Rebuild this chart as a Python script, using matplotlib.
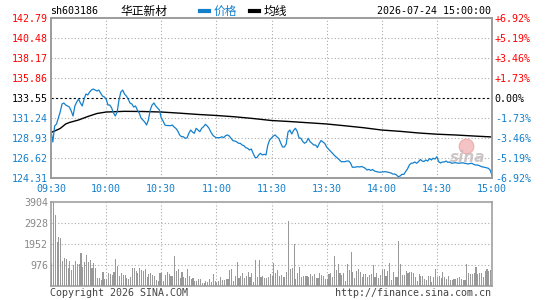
import matplotlib
matplotlib.use('Agg')
import matplotlib.pyplot as plt
from matplotlib.lines import Line2D

# ---------------- data ----------------
prev_close = 133.55
prices = [
    129.74, 128.47, 130.32, 130.55, 131.24, 131.93, 132.86, 132.97, 132.74, 132.63,
    132.51, 132.05, 131.47, 132.63, 133.09, 133.43, 132.97, 132.63, 133.43, 134.01,
    133.90, 134.24, 134.47, 134.59, 134.47, 134.36, 134.47, 134.13, 133.78, 133.67,
    133.43, 132.74, 132.74, 132.40, 131.82, 131.47, 131.93, 133.32, 134.24, 134.47,
    134.01, 133.78, 133.43, 132.97, 132.86, 132.51, 132.63, 132.16, 131.82, 131.24,
    131.01, 130.78, 130.43, 131.01, 132.16, 132.74, 132.97, 132.63, 132.40, 132.16,
    131.24, 130.89, 130.43, 130.37, 130.37, 130.35, 130.43, 130.20, 130.03, 129.74,
    129.28, 129.08, 129.08, 128.90, 128.93, 129.47, 129.85, 129.62, 129.47, 130.05,
    129.85, 129.66, 130.05, 130.23, 130.51, 130.32, 130.05, 129.62, 129.28, 129.08,
    128.97, 128.97, 128.97, 129.08, 128.97, 129.20, 129.28, 129.16, 128.90, 128.62,
    128.58, 128.50, 128.32, 128.32, 128.12, 128.04, 127.81, 127.74, 127.54, 127.66,
    127.16, 126.70, 126.65, 126.97, 127.16, 126.97, 127.05, 126.97, 128.12, 128.70,
    128.93, 129.16, 129.28, 129.05, 128.87, 128.35, 127.89, 127.89, 128.24, 129.62,
    129.85, 129.39, 129.80, 130.05, 129.68, 128.93, 128.90, 128.53, 128.32, 128.47,
    128.90, 128.50, 128.32, 128.12, 128.12, 127.83, 128.30, 128.64, 128.47, 128.30,
    127.89, 127.66, 127.43, 127.20, 126.97, 126.77, 126.59, 126.39, 126.19, 126.19,
    126.19, 126.27, 126.27, 126.04, 125.55, 125.55, 125.58, 125.62, 125.58, 125.64,
    125.55, 125.43, 125.23, 125.31, 125.18, 125.29, 125.12, 125.06, 125.00, 124.97,
    125.00, 125.03, 125.04, 125.00, 124.95, 124.89, 124.77, 124.77, 124.66, 124.46,
    124.54, 124.74, 124.72, 125.06, 125.35, 125.81, 126.01, 126.04, 126.16, 126.01,
    126.19, 126.45, 126.27, 126.22, 126.39, 126.27, 126.56, 126.39, 126.59, 126.50,
    126.77, 126.19, 126.04, 126.16, 126.16, 126.27, 126.12, 126.16, 126.01, 126.04,
    126.08, 126.04, 126.01, 126.04, 126.07, 126.01, 125.98, 125.93, 125.98, 126.01,
    125.89, 125.81, 125.81, 125.75, 125.64, 125.58, 125.55, 125.49, 125.43, 125.23, 124.60,
]
avg_minutes = [0, 2, 5, 8, 10, 15, 20, 25, 30, 40, 50, 60, 70, 80, 90, 100, 110, 120,
               130, 140, 150, 160, 170, 180, 190, 200, 210, 220, 230, 240]
avg_values = [129.57, 129.74, 130.03, 130.55, 130.72, 131.01, 131.41, 131.76, 131.93,
              132.01, 131.99, 131.93, 131.80, 131.65, 131.53, 131.38, 131.18, 130.95,
              130.83, 130.69, 130.55, 130.34, 130.12, 129.85, 129.70, 129.51, 129.37,
              129.28, 129.16, 129.05]
volumes = [
    1040, 3904, 3288, 2048, 2249, 2203, 1149, 1273, 1226, 808,
    1149, 730, 947, 1149, 1009, 1009, 1536, 885, 1102, 1428,
    1102, 1195, 823, 1071, 823, 380, 350, 280, 620, 330,
    310, 575, 545, 500, 650, 1226, 930, 450, 606, 500,
    500, 340, 310, 420, 808, 808, 700, 606, 823, 730,
    700, 760, 390, 545, 606, 480, 450, 265, 200, 575,
    575, 200, 480, 640, 545, 450, 450, 1381, 670, 760,
    360, 640, 390, 360, 775, 450, 330, 360, 235, 235,
    295, 330, 140, 110, 200, 155, 330, 155, 545, 200,
    140, 220, 390, 265, 265, 330, 330, 730, 790, 200,
    450, 1102, 370, 450, 606, 360, 450, 620, 390, 606,
    170, 1195, 420, 1195, 390, 470, 340, 340, 420, 540,
    450, 1071, 606, 730, 450, 500, 420, 390, 640, 3009,
    775, 823, 1950, 310, 590, 870, 400, 440, 450, 440,
    420, 540, 450, 540, 370, 370, 590, 480, 450, 310,
    310, 560, 600, 420, 1381, 730, 990, 600, 500, 600,
    220, 990, 730, 1550, 640, 360, 670, 775, 640, 400,
    540, 540, 390, 520, 560, 960, 390, 590, 360, 480,
    745, 775, 440, 680, 1071, 265, 640, 390, 390, 2079,
    990, 480, 500, 680, 575, 640, 640, 600, 390, 220,
    540, 470, 450, 310, 265, 440, 440, 155, 390, 775,
    390, 450, 360, 640, 400, 330, 450, 265, 280, 310,
    310, 360, 400, 330, 280, 265, 990, 590, 560, 540,
    590, 870, 540, 590, 590, 400, 700, 775, 700, 750, 800,
]
price_ticks = [124.31, 126.62, 128.93, 131.24, 133.55, 135.86, 138.17, 140.48, 142.79]
pct_labels = ['-6.92%', '-5.19%', '-3.46%', '-1.73%', '0.00%',
              '+1.73%', '+3.46%', '+5.19%', '+6.92%']
time_ticks = [0, 30, 60, 90, 120, 150, 180, 210, 240]
time_labels = ['09:30', '10:00', '10:30', '11:00', '11:30',
               '13:30', '14:00', '14:30', '15:00']
vol_ticks = [976, 1952, 2928, 3904]

# ---------------- style ----------------
W, H = 545, 300
MONO = 'DejaVu Sans Mono'
CJK = ['Noto Sans CJK SC', 'DejaVu Sans']
FS = 7.2
RED = '#ff0000'
BLUE = '#1480cc'
GRID = '#aaaaaa'
EDGE = '#999999'
BAR = '#999999'

fig = plt.figure(figsize=(W / 100, H / 100), dpi=100)
ax = fig.add_axes([51 / W, 1 - 178 / H, 441 / W, 160 / H])
axv = fig.add_axes([51 / W, 1 - 285.7 / H, 441 / W, 84 / H])

def tick_color(v):
    if abs(v - prev_close) < 1e-6:
        return 'black'
    return RED if v > prev_close else BLUE

# price pane
ax.set_xlim(0, 240)
ax.set_ylim(price_ticks[0], price_ticks[-1])
for v in price_ticks[1:-1]:
    if abs(v - prev_close) < 1e-6:
        ax.axhline(v, color='black', lw=0.8, ls=(0, (2, 2)), zorder=1)
    else:
        ax.axhline(v, color=GRID, lw=0.8, ls=(0, (1, 2)), zorder=1)
for t in time_ticks[1:-1]:
    ax.axvline(t, color=GRID, lw=0.8, ls=(0, (1, 2)), zorder=1)

# watermark (sina logo)
ax.scatter([0.94], [0.2], s=110, transform=ax.transAxes, color='#f4c4c4',
           edgecolors='#eeaaaa', linewidths=0.8, zorder=2)
ax.text(0.945, 0.13, 'sina', transform=ax.transAxes, fontsize=11, style='italic',
        fontweight='bold', color='#c4bcbc', alpha=0.85, ha='center', va='center', zorder=2)

ax.plot(range(len(prices)), prices, color=BLUE, lw=0.9, zorder=3)
ax.plot(avg_minutes, avg_values, color='black', lw=1.0, zorder=2)

ax.set_yticks(price_ticks)
ax.set_yticklabels(['%.2f' % v for v in price_ticks], family=MONO, fontsize=FS)
for lab, v in zip(ax.get_yticklabels(), price_ticks):
    lab.set_color(tick_color(v))
ax.set_xticks(time_ticks)
ax.set_xticklabels(time_labels, family=MONO, fontsize=FS, color=BLUE)
ax.tick_params(axis='both', length=0, pad=2)
ax.tick_params(axis='x', pad=4)

ax2 = ax.twinx()
ax2.set_ylim(price_ticks[0], price_ticks[-1])
ax2.set_yticks(price_ticks)
ax2.set_yticklabels(pct_labels, family=MONO, fontsize=FS)
for lab, v in zip(ax2.get_yticklabels(), price_ticks):
    lab.set_color(tick_color(v))
ax2.tick_params(axis='y', length=0, pad=2)

for a in (ax, ax2, axv):
    for s in a.spines.values():
        s.set_color(EDGE)
        s.set_linewidth(1.1)

# volume pane
axv.set_xlim(0, 240)
axv.set_ylim(0, vol_ticks[-1])
axv.bar(range(len(volumes)), volumes, width=0.6, align='edge', color=BAR,
        linewidth=0, zorder=2)
for v in vol_ticks[:-1]:
    axv.axhline(v, color=GRID, lw=0.8, ls=(0, (1, 2)), zorder=1)
for t in time_ticks[1:-1]:
    axv.axvline(t, color=GRID, lw=0.8, ls=(0, (1, 2)), zorder=1)
axv.set_yticks(vol_ticks)
axv.set_yticklabels([str(v) for v in vol_ticks], family=MONO, fontsize=FS, color='#888888')
axv.set_xticks([])
axv.tick_params(axis='y', length=0, pad=2)

# header
ty = 1 - 11 / H
fig.text(50 / W, ty, 'sh603186', family=MONO, fontsize=FS, va='center', color='black')
fig.text(120 / W, ty, '华正新材', family=CJK, fontsize=8.5, va='center', color='black')
fig.add_artist(Line2D([200 / W, 209 / W], [ty, ty], color=BLUE, lw=3,
                      transform=fig.transFigure))
fig.text(214 / W, ty, '价格', family=CJK, fontsize=8.5, va='center', color=BLUE)
fig.add_artist(Line2D([250 / W, 259 / W], [ty, ty], color='black', lw=3,
                      transform=fig.transFigure))
fig.text(264 / W, ty, '均线', family=CJK, fontsize=8.5, va='center', color='black')
fig.text(491 / W, ty, '2026-07-24 15:00:00', family=MONO, fontsize=FS,
         va='center', ha='right', color='black')

# footer
by = 1 - 293 / H
fig.text(50 / W, by, 'Copyright 2026 SINA.COM', family=MONO, fontsize=FS,
         va='center', color='#444444')
fig.text(491 / W, by, 'http://finance.sina.com.cn', family=MONO, fontsize=FS,
         va='center', ha='right', color='#444444')

fig.savefig('out.png', dpi=100)
